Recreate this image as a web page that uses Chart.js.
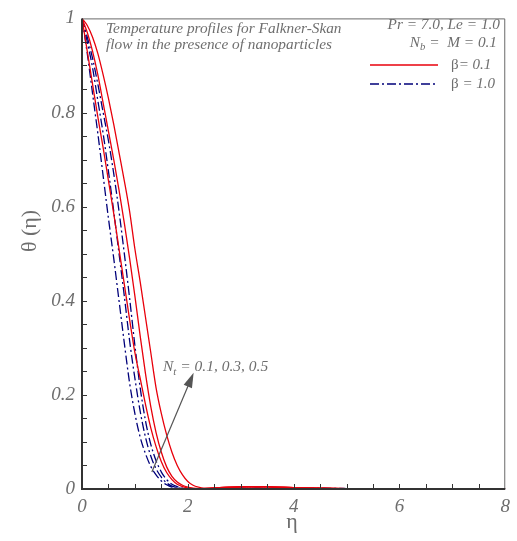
<!DOCTYPE html>
<html>
<head>
<meta charset="utf-8">
<script src="https://cdn.jsdelivr.net/npm/chart.js@4"></script>
<style>
  html, body { margin: 0; padding: 0; background: #fff; }
  #wrap { width: 517px; height: 541px; }
</style>
</head>
<body>
<div id="wrap"><canvas id="thetaChart" width="517" height="541"></canvas></div>
<script>
// eta grid (x values)
const eta = [0, 0.1, 0.2, 0.3, 0.4, 0.5, 0.6, 0.7, 0.8, 0.9, 1.0, 1.1, 1.2, 1.3, 1.4, 1.5, 1.6, 1.7, 1.8, 1.9, 2.0, 2.1, 2.2, 2.3, 2.4, 2.6, 3, 3.5, 4, 5, 6, 7, 8];

// beta = 0.1 (solid red), Nt = 0.1, 0.3, 0.5
const thetaB01Nt01 = [1, 0.93, 0.86, 0.79, 0.725, 0.655, 0.585, 0.51, 0.435, 0.36, 0.29, 0.235, 0.18, 0.13, 0.09, 0.058, 0.035, 0.02, 0.01, 0.005, 0.002, 0.001, 0, 0.001, 0.001, 0.002, 0.004, 0.004, 0.003, 0.001, 0, 0, 0];
const thetaB01Nt03 = [1, 0.97, 0.93, 0.88, 0.82, 0.76, 0.70, 0.635, 0.565, 0.49, 0.41, 0.325, 0.245, 0.175, 0.12, 0.078, 0.047, 0.027, 0.015, 0.008, 0.004, 0.002, 0.001, 0.001, 0.002, 0.003, 0.005, 0.005, 0.003, 0.001, 0, 0, 0];
const thetaB01Nt05 = [1, 0.985, 0.96, 0.925, 0.88, 0.83, 0.775, 0.715, 0.655, 0.59, 0.51, 0.44, 0.365, 0.29, 0.215, 0.16, 0.115, 0.078, 0.05, 0.03, 0.016, 0.008, 0.004, 0.002, 0.002, 0.003, 0.005, 0.005, 0.003, 0.001, 0, 0, 0];

// beta = 1.0 (navy dash-dot), Nt = 0.1, 0.3, 0.5
const thetaB10Nt01 = [1, 0.925, 0.84, 0.755, 0.665, 0.575, 0.49, 0.40, 0.31, 0.225, 0.16, 0.11, 0.075, 0.048, 0.03, 0.017, 0.009, 0.004, 0.002, 0.001, 0, 0, 0, 0, 0, 0, 0.001, 0.001, 0.001, 0, 0, 0, 0];
const thetaB10Nt03 = [1, 0.95, 0.895, 0.825, 0.755, 0.675, 0.59, 0.50, 0.41, 0.315, 0.235, 0.165, 0.11, 0.07, 0.043, 0.025, 0.013, 0.006, 0.003, 0.001, 0, 0, 0, 0, 0, 0, 0.002, 0.002, 0.001, 0.001, 0, 0, 0];
const thetaB10Nt05 = [1, 0.96, 0.915, 0.86, 0.80, 0.74, 0.67, 0.59, 0.50, 0.405, 0.305, 0.215, 0.145, 0.095, 0.06, 0.036, 0.02, 0.01, 0.005, 0.002, 0.001, 0, 0, 0, 0, 0, 0.002, 0.002, 0.002, 0.001, 0, 0, 0];

const xTickLabels = ['0', '2', '4', '6', '8'];
const yTickLabels = ['0', '0.2', '0.4', '0.6', '0.8', '1'];

const RED = '#e8000b';
const NAVY = '#00007a';
const TEXT = '#6e6e6e';
const DASHDOT = [9, 3, 2, 3];
const SERIF = '"Liberation Serif", "DejaVu Serif", serif';

function toPoints(ys) {
    return ys.map((y, i) => ({ x: eta[i], y: y }));
}

function line(ys, color, dash) {
    return {
        data: toPoints(ys),
        borderColor: color,
        borderWidth: 1.3,
        borderDash: dash,
        pointRadius: 0,
        fill: false,
        cubicInterpolationMode: 'monotone'
    };
}

// draws a run of text pieces, some of them subscript
function drawRuns(ctx, runs, x, y, size, alignRight) {
    const fontFor = r => (r.upright ? '' : 'italic ') + (r.sub ? size * 0.7 : size) + 'px ' + SERIF;
    let total = 0;
    runs.forEach(r => { ctx.font = fontFor(r); total += ctx.measureText(r.t).width; });
    let cx = alignRight ? x - total : x;
    runs.forEach(r => {
        ctx.font = fontFor(r);
        ctx.fillText(r.t, cx, r.sub ? y + size * 0.3 : y);
        cx += ctx.measureText(r.t).width;
    });
}

const decorations = {
    id: 'decorations',
    afterDraw(chart) {
        const { ctx, chartArea: a, scales: { x, y } } = chart;
        ctx.save();

        // thin top / right border
        ctx.strokeStyle = '#6a6a6a';
        ctx.lineWidth = 1;
        ctx.beginPath();
        ctx.moveTo(a.left, a.top + 0.5);
        ctx.lineTo(a.right - 0.5, a.top + 0.5);
        ctx.lineTo(a.right - 0.5, a.bottom);
        ctx.stroke();

        // inward ticks
        ctx.strokeStyle = '#333';
        ctx.beginPath();
        for (let i = 1; i < 20; i++) {
            const py = Math.round(y.getPixelForValue(i * 0.05)) + 0.5;
            ctx.moveTo(a.left, py);
            ctx.lineTo(a.left + 5, py);
        }
        for (let i = 1; i < 16; i++) {
            const px = Math.round(x.getPixelForValue(i * 0.5)) + 0.5;
            ctx.moveTo(px, a.bottom);
            ctx.lineTo(px, a.bottom - 5);
        }
        ctx.stroke();

        // heavy left / bottom axes
        ctx.strokeStyle = '#333';
        ctx.lineWidth = 2;
        ctx.beginPath();
        ctx.moveTo(a.left, a.top);
        ctx.lineTo(a.left, a.bottom);
        ctx.lineTo(a.right, a.bottom);
        ctx.stroke();

        ctx.fillStyle = TEXT;
        ctx.textBaseline = 'middle';

        // axis titles
        ctx.font = '22px ' + SERIF;
        ctx.textAlign = 'center';
        ctx.fillText('\u03B7', 292, 522);
        ctx.save();
        ctx.translate(30, 231);
        ctx.rotate(-Math.PI / 2);
        ctx.fillText('\u03B8 (\u03B7)', 0, 0);
        ctx.restore();

        // caption top-left
        ctx.textAlign = 'left';
        ctx.font = 'italic 15.3px ' + SERIF;
        ctx.fillText('Temperature profiles for Falkner-Skan', 106, 29);
        ctx.fillText('flow in the presence of nanoparticles', 106, 45);

        // parameters top-right
        drawRuns(ctx, [{ t: 'Pr = 7.0, Le = 1.0' }], 500, 25, 15.3, true);
        drawRuns(ctx, [{ t: 'N' }, { t: 'b', sub: true }, { t: ' =  M = 0.1' }], 497, 43, 15.3, true);

        // legend
        const ds = chart.data.datasets;
        [[ds[0], 65, '= 0.1', '\u03B2'], [ds[3], 84, ' = 1.0', '\u03B2']].forEach(([d, ly, txt, sym]) => {
            ctx.strokeStyle = d.borderColor;
            ctx.lineWidth = 1.6;
            ctx.setLineDash(d.borderDash || []);
            ctx.beginPath();
            ctx.moveTo(370, ly);
            ctx.lineTo(438, ly);
            ctx.stroke();
            ctx.setLineDash([]);
            drawRuns(ctx, [{ t: sym, upright: true }, { t: txt }], 451, ly, 15, false);
        });

        // Nt arrow, anchored in data space
        const x0 = x.getPixelForValue(1.32), y0 = y.getPixelForValue(0.036);
        const x1 = x.getPixelForValue(2.11), y1 = y.getPixelForValue(0.247);
        const ang = Math.atan2(y1 - y0, x1 - x0);
        ctx.strokeStyle = '#555';
        ctx.fillStyle = '#555';
        ctx.lineWidth = 1.2;
        ctx.beginPath();
        ctx.moveTo(x0, y0);
        ctx.lineTo(x1 - 12 * Math.cos(ang), y1 - 12 * Math.sin(ang));
        ctx.stroke();
        ctx.beginPath();
        ctx.moveTo(x1, y1);
        ctx.lineTo(x1 - 15 * Math.cos(ang) + 4.5 * Math.sin(ang), y1 - 15 * Math.sin(ang) - 4.5 * Math.cos(ang));
        ctx.lineTo(x1 - 15 * Math.cos(ang) - 4.5 * Math.sin(ang), y1 - 15 * Math.sin(ang) + 4.5 * Math.cos(ang));
        ctx.closePath();
        ctx.fill();

        ctx.fillStyle = TEXT;
        drawRuns(ctx, [{ t: 'N' }, { t: 't', sub: true }, { t: ' = 0.1, 0.3, 0.5' }], 163, 367, 15.5, false);

        ctx.restore();
    }
};

const tickFont = { family: SERIF, style: 'italic', size: 19 };

new Chart(document.getElementById('thetaChart'), {
    type: 'line',
    data: {
        datasets: [
            line(thetaB01Nt01, RED),
            line(thetaB01Nt03, RED),
            line(thetaB01Nt05, RED),
            line(thetaB10Nt01, NAVY, DASHDOT),
            line(thetaB10Nt03, NAVY, DASHDOT),
            line(thetaB10Nt05, NAVY, DASHDOT)
        ]
    },
    options: {
        responsive: false,
        animation: false,
        layout: { padding: { top: 15, right: 7, left: 0, bottom: 0 } },
        plugins: { legend: { display: false }, tooltip: { enabled: false } },
        scales: {
            x: {
                type: 'linear', min: 0, max: 8,
                grid: { display: false, drawTicks: false },
                border: { display: false },
                ticks: { stepSize: 2, padding: 7, color: TEXT, font: tickFont, maxRotation: 0,
                         callback: (v, i) => xTickLabels[i] },
                afterFit: s => { s.height = 52; }
            },
            y: {
                type: 'linear', min: 0, max: 1,
                grid: { display: false, drawTicks: false },
                border: { display: false },
                ticks: { stepSize: 0.2, padding: 7, color: TEXT, font: tickFont,
                         callback: (v, i) => yTickLabels[i] },
                afterFit: s => { s.width = 82; }
            }
        }
    },
    plugins: [decorations]
});
</script>
</body>
</html>
